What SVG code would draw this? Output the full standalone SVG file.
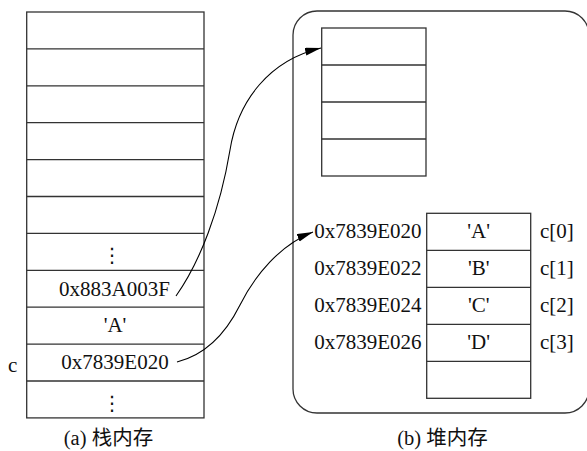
<svg xmlns="http://www.w3.org/2000/svg" width="587" height="451" viewBox="0 0 587 451">
<style>
.box{fill:#fff;stroke:#333;stroke-width:1.3}
.ln{stroke:#333;stroke-width:1.3;fill:none}
.t{font-family:"Liberation Serif","Times New Roman",serif;font-size:21px;fill:#111}
.m{text-anchor:middle}
.e{text-anchor:end}
.cap{font-family:"Liberation Serif","Noto Sans CJK SC",serif;font-size:20.5px;fill:#111;text-anchor:middle}
.dots{font-family:"DejaVu Serif","DejaVu Sans",serif;font-size:20px;fill:#111;text-anchor:middle}
.arr{fill:none;stroke:#000;stroke-width:1.1;marker-end:url(#ah)}
</style>
<defs>
<marker id="ah" markerUnits="userSpaceOnUse" markerWidth="18" markerHeight="10" refX="16" refY="4" orient="auto">
<path d="M0,0 L16,4 L0,8 Z" fill="#000"/>
</marker>
</defs>
<g id="stack">
<rect class="box" x="26.7" y="12" width="177.3" height="405.9"/>
<path class="ln" d="M26.7,48.9H204M26.7,85.8H204M26.7,122.7H204M26.7,159.6H204M26.7,196.5H204M26.7,233.4H204M26.7,270.3H204M26.7,307.2H204M26.7,344.1H204M26.7,381H204"/>
<text class="dots" x="112" y="262">⋮</text>
<text class="t m" x="114.5" y="295.5">0x883A003F</text>
<text class="t m" x="115" y="332">'A'</text>
<text class="t m" x="115" y="369">0x7839E020</text>
<text class="dots" x="112" y="410">⋮</text>
<text class="t" x="8" y="372">c</text>
<text class="cap" x="108.5" y="445">(a) 栈内存</text>
</g>
<g id="heap">
<rect class="box" x="293" y="11" width="296" height="402" rx="24" ry="24"/>
</g>
<g id="heapBlock1">
<rect class="box" x="321.7" y="28" width="104.3" height="148"/>
<path class="ln" d="M321.7,65H426M321.7,102H426M321.7,139H426"/>
</g>
<g id="heapArray">
<rect class="box" x="426.7" y="213.3" width="104" height="185"/>
<path class="ln" d="M426.7,250.3H530.7M426.7,287.3H530.7M426.7,324.3H530.7M426.7,361.3H530.7"/>
<text class="t m" x="478.7" y="238">'A'</text>
<text class="t m" x="478.7" y="275">'B'</text>
<text class="t m" x="478.7" y="312">'C'</text>
<text class="t m" x="478.7" y="349">'D'</text>
<text class="t e" x="421.5" y="238">0x7839E020</text>
<text class="t e" x="421.5" y="275">0x7839E022</text>
<text class="t e" x="421.5" y="312">0x7839E024</text>
<text class="t e" x="421.5" y="349">0x7839E026</text>
<text class="t" x="540" y="238">c[0]</text>
<text class="t" x="540" y="275">c[1]</text>
<text class="t" x="540" y="312">c[2]</text>
<text class="t" x="540" y="349">c[3]</text>
<text class="cap" x="442.5" y="445">(b) 堆内存</text>
</g>
<g id="connectors">
<path class="arr" d="M176,296 C200,262 220,210 230,150 C238,100 270,60 321,48"/>
<path class="arr" d="M177,362 C205,355 225,335 240,305 C255,275 280,245 313,232"/>
</g>
</svg>
